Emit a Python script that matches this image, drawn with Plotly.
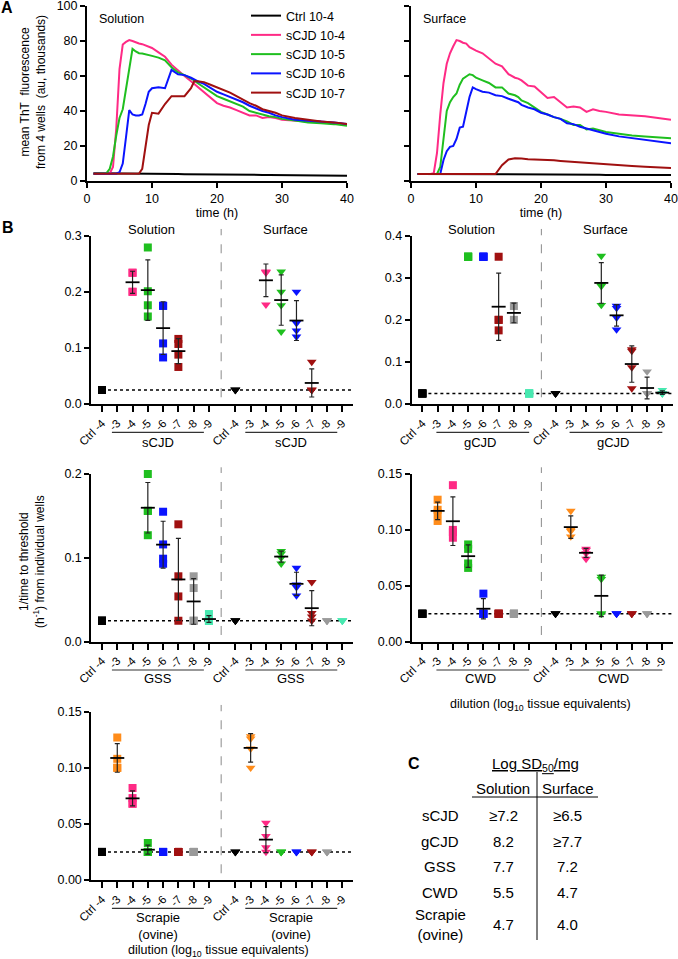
import numpy as np
import plotly.graph_objects as go

W, H = 678, 959
FONT = "Liberation Sans, Arial, Helvetica, sans-serif"


def fx(p):
    return p / W


def fy(p):
    return 1 - p / H


# ---------------- Panel A data (mean ThT fluorescence, thousands) ----------------
time_h = [1, 2, 3, 3.5, 4, 4.5, 5, 5.5, 6, 6.5, 7, 7.5, 8, 8.5, 9, 9.5, 10,
          11, 12, 13, 14, 15, 16, 16.5, 17, 18, 19, 20, 21, 22, 23, 24, 25,
          26, 27, 28, 29, 30, 32, 34, 36, 38, 40]

sol_ctrl = [4.4, 4.4, 4.4, 4.4, 4.4, 4.3, 4.3, 4.3, 4.3, 4.3, 4.3, 4.2, 4.2, 4.2, 4.2, 4.2, 4.1,
            4.1, 4.1, 4.0, 4.0, 3.9, 3.9, 3.9, 3.9, 3.8, 3.8, 3.7, 3.7, 3.7, 3.6, 3.6, 3.5,
            3.5, 3.5, 3.4, 3.4, 3.3, 3.3, 3.2, 3.1, 3.1, 3.0]
sol_m4 = [4.2, 4.2, 4.2, 4.3, 8, 30, 64, 78, 79.5, 80.5, 80, 79.2, 78.6, 78.2, 77.6, 77, 76,
          73.5, 71, 66.5, 63, 60, 57, 55.5, 54, 50.5, 47.5, 44.5, 43, 42, 40.5, 39, 37.5,
          37.5, 36, 36.5, 36, 35, 34.5, 34, 34, 33, 32.5]
sol_m5 = [4.2, 4.2, 4.5, 7, 14, 26, 36, 41, 52, 65, 75.5, 74, 73, 72.8, 72.5, 72, 71.5,
          70.5, 69, 65, 62, 60.5, 58.5, 57.5, 56, 53.5, 51, 48.5, 47, 45.5, 44, 42.5, 40,
          39, 38, 37, 36.5, 35.5, 34.5, 33.5, 33, 32.5, 31.5]
sol_m6 = [4.2, 4.2, 4.2, 4.2, 4.2, 4.2, 5, 10, 25, 40.5, 38, 37.5, 37.5, 38, 44, 51, 53,
          53.5, 53, 63.5, 61, 60.5, 59, 58, 57, 55.5, 53, 51, 49.5, 48, 46.5, 45, 43,
          41.5, 40, 39, 37.5, 36.5, 35, 34.5, 34, 33.5, 32.5]
sol_m7 = [4.2, 4.2, 4.2, 4.2, 4.2, 4.2, 4.2, 4.2, 4.2, 4.2, 4.2, 4.2, 4.3, 7, 20, 32, 39,
          38.5, 44, 48.5, 48.5, 48.5, 53, 57, 57, 56.5, 55, 53.5, 52, 50.5, 48.5, 46.5, 44.5,
          43, 41, 40, 39, 37.5, 36, 35, 34, 33.5, 32.5]

surf_ctrl = [4.0, 4.0, 4.0, 4.0, 4.0, 4.0, 4.0, 4.0, 4.0, 4.0, 3.9, 3.9, 3.9, 3.9, 3.9, 3.9, 3.9,
             3.9, 3.9, 3.8, 3.8, 3.8, 3.8, 3.8, 3.8, 3.8, 3.8, 3.7, 3.7, 3.7, 3.7, 3.7, 3.6,
             3.6, 3.6, 3.6, 3.6, 3.5, 3.5, 3.5, 3.4, 3.4, 3.4]
surf_m4 = [4, 4, 4, 4.5, 16, 38, 56, 67, 73, 77, 80.5, 80, 79, 78.5, 76.5, 75.5, 74.5,
           73, 70, 67, 65.5, 61, 59, 58.5, 57.5, 54.5, 54, 50.5, 47.5, 48, 45, 42, 42.5,
           42, 39.5, 41, 40, 39.5, 38, 37.5, 37, 36, 35]
surf_m5 = [4, 4, 4, 4, 4, 8, 25, 40, 45, 48, 50, 55, 58.5, 60, 61, 60.5, 59,
           57.5, 56, 53.5, 53.5, 50, 49, 48, 46, 44.5, 42, 39.5, 38, 36.5, 35.5, 34, 32,
           32, 29.5, 30, 29, 28, 27, 26, 25.5, 25, 24.5]
surf_m6 = [4, 4, 4, 4, 4, 4, 12, 17, 19.5, 20, 24, 30.5, 31, 39, 48, 53.5, 52.5,
           51, 50.5, 49, 48.5, 47, 45.5, 45, 43.5, 42, 41, 39, 38, 36.5, 35.5, 33, 32.5,
           31, 30, 29, 28, 27, 25.5, 24.5, 23.5, 22.5, 21.5]
surf_m7 = [4, 4, 4, 4, 4, 4, 4, 4, 4, 4, 4, 4, 4, 4, 4, 4, 4,
           4, 4, 4, 9, 12.3, 13, 13, 12.8, 12.5, 12.4, 12.2, 12, 11.8, 11.5, 11.2, 10.9,
           10.7, 10.4, 10.1, 9.9, 9.6, 9.1, 8.6, 8.2, 7.8, 7.4]

series_names = ["Ctrl 10-4", "sCJD 10-4", "sCJD 10-5", "sCJD 10-6", "sCJD 10-7"]
series_colors = ["#000000", "#FF2A85", "#1FBF1F", "#0A14FF", "#A01010"]

# ---------------- Panel B data (1/time to threshold, h^-1) ----------------
dil_labels = ["Ctrl -4", "-3", "-4", "-5", "-6", "-7", "-8", "-9"]
dil_colors = ["#000000", "#FF8C1A", "#FF2A85", "#1FBF1F", "#0A14FF", "#A01010", "#9A9A9A", "#48E8B0"]
THRESHOLD = 0.025

sCJD_solution = [[0.025, 0.025, 0.025, 0.025], [], [0.234, 0.234, 0.2, 0.2],
                 [0.279, 0.201, 0.176, 0.156], [0.175, 0.175, 0.108, 0.083],
                 [0.116, 0.107, 0.088, 0.066], [], []]
sCJD_surface = [[0.025, 0.025, 0.025, 0.025], [], [0.236, 0.235, 0.234, 0.177],
                [0.236, 0.2, 0.176, 0.129], [0.2, 0.144, 0.131, 0.12],
                [0.075, 0.025, 0.025, 0.025], [], []]
gCJD_solution = [[0.025, 0.025, 0.025, 0.025], [], [], [0.35, 0.35, 0.35, 0.35],
                 [0.35, 0.35, 0.35, 0.35], [0.35, 0.2, 0.2, 0.175], [0.233, 0.2],
                 [0.025, 0.025, 0.025, 0.025]]
gCJD_surface = [[0.025, 0.025, 0.025, 0.025], [], [], [0.352, 0.284, 0.28, 0.235],
                [0.233, 0.228, 0.205, 0.177], [0.13, 0.126, 0.087, 0.037],
                [0.077, 0.025, 0.025, 0.025], [0.033, 0.025, 0.025, 0.025]]
GSS_solution = [[0.025, 0.025, 0.025, 0.025], [], [], [0.2, 0.156, 0.156, 0.127],
                [0.155, 0.116, 0.099, 0.093], [0.14, 0.078, 0.054, 0.025],
                [0.078, 0.064, 0.025, 0.025], [0.033, 0.025, 0.025, 0.025]]
GSS_surface = [[0.025, 0.025, 0.025, 0.025], [], [], [0.108, 0.105, 0.1, 0.093],
               [0.088, 0.068, 0.065, 0.055], [0.071, 0.034, 0.03, 0.025],
               [0.025, 0.025, 0.025, 0.025], [0.025, 0.025, 0.025, 0.025]]
CWD_solution = [[0.025, 0.025, 0.025, 0.025], [0.127, 0.118, 0.115, 0.108],
                [0.14, 0.1, 0.098, 0.093], [0.087, 0.083, 0.07, 0.066],
                [0.043, 0.025, 0.025, 0.025], [0.025, 0.025, 0.025, 0.025],
                [0.025, 0.025, 0.025, 0.025], []]
CWD_surface = [[0.025, 0.025, 0.025, 0.025], [0.117, 0.1, 0.099, 0.094],
               [0.083, 0.082, 0.079, 0.074], [0.058, 0.056, 0.025, 0.025],
               [0.025, 0.025, 0.025, 0.025], [0.025, 0.025, 0.025, 0.025],
               [0.025, 0.025, 0.025, 0.025], []]
scrapie_solution = [[0.025, 0.025, 0.025, 0.025], [0.127, 0.108, 0.1, 0.1],
                    [0.082, 0.073, 0.068, 0.068], [0.033, 0.025, 0.025, 0.025],
                    [0.025, 0.025, 0.025, 0.025], [0.025, 0.025, 0.025, 0.025],
                    [0.025, 0.025, 0.025, 0.025], []]
scrapie_surface = [[0.025, 0.025, 0.025, 0.025], [0.128, 0.126, 0.117, 0.1],
                   [0.051, 0.039, 0.029, 0.025], [0.025, 0.025, 0.025, 0.025],
                   [0.025, 0.025, 0.025, 0.025], [0.025, 0.025, 0.025, 0.025],
                   [0.025, 0.025, 0.025, 0.025], []]

# ---------------- Panel C table ----------------
table_agents = ["sCJD", "gCJD", "GSS", "CWD", "Scrapie<br>(ovine)"]
table_solution = ["≥7.2", "8.2", "7.7", "5.5", "4.7"]
table_surface = ["≥6.5", "≥7.7", "7.2", "4.7", "4.0"]

# ---------------- Figure ----------------
fig = go.Figure()
axis_style = dict(showline=True, linecolor="black", linewidth=2, ticks="outside",
                  ticklen=5, tickwidth=1.5, tickcolor="black", showgrid=False,
                  zeroline=False, tickfont=dict(size=12, color="black"), fixedrange=True,
                  automargin=False, ticklabeloverflow="allow")
layout = {}
annotations = []
shapes = []


def note(text, x, y, xref="paper", size=12.5, xanchor="center", yanchor="middle", **kw):
    d = dict(text=text, x=x, y=y, xref=xref, yref="paper", showarrow=False,
             xanchor=xanchor, yanchor=yanchor, font=dict(size=size))
    d.update(kw)
    annotations.append(d)


# ---- Panel A ----
solution_series = [sol_ctrl, sol_m4, sol_m5, sol_m6, sol_m7]
surface_series = [surf_ctrl, surf_m4, surf_m5, surf_m6, surf_m7]
for k, (xa, ya, data) in enumerate([("x", "y", solution_series), ("x2", "y2", surface_series)]):
    for name, col, vals in zip(series_names, series_colors, data):
        fig.add_trace(go.Scatter(x=time_h, y=vals, mode="lines", name=name,
                                 line=dict(color=col, width=2), xaxis=xa, yaxis=ya,
                                 showlegend=(k == 0), hoverinfo="skip"))

A_x_dom = [(87, 347), (411, 671)]
for k in range(2):
    sx = "" if k == 0 else "2"
    layout["xaxis" + sx] = dict(axis_style, domain=[fx(A_x_dom[k][0]), fx(A_x_dom[k][1])],
                                range=[0, 40], tickvals=[0, 10, 20, 30, 40], anchor="y" + sx,
                                tickfont=dict(size=12.5),
                                title=dict(text="time (h)", font=dict(size=12.5), standoff=3))
    layout["yaxis" + sx] = dict(axis_style, domain=[fy(181), fy(6)], range=[0, 100],
                                tickvals=[0, 20, 40, 60, 80, 100], anchor="x" + sx,
                                showticklabels=(k == 0), tickfont=dict(size=12.5))

note("Solution", fx(97), fy(19), xanchor="left")
note("Surface", fx(421), fy(19), xanchor="left")
note("mean ThT\u00a0\u00a0fluorescence<br>from 4 wells\u00a0\u00a0(au, thousands)", fx(33), fy(92),
     size=12, textangle=-90)

# ---- Panel B ----
GROUP2_OFFSET = 8.73
SEP_X = 7.8
XRANGE = [-0.7, 16.43]
rows_px = [(235.7, 404), (474, 641.7), (711.7, 880)]
cols_px = [(91.3, 353), (411.7, 673)]
underline_y = [432.3, 670, 908.3]
grp_text_y = [442, 678.5, 926]
col_underline = [(0.65, 6.67, 3.66), (0.92, 7.0, 3.8)]

panels_B = [
    (3, 0, 0, "sCJD", sCJD_solution, sCJD_surface, 0.3, 0.1, ".1f"),
    (4, 0, 1, "gCJD", gCJD_solution, gCJD_surface, 0.4, 0.1, ".1f"),
    (5, 1, 0, "GSS", GSS_solution, GSS_surface, 0.2, 0.1, ".1f"),
    (6, 1, 1, "CWD", CWD_solution, CWD_surface, 0.15, 0.05, ".2f"),
    (7, 2, 0, "Scrapie<br>(ovine)", scrapie_solution, scrapie_surface, 0.15, 0.05, ".2f"),
]

tickvals_B = [i for i in range(8)] + [i + GROUP2_OFFSET for i in range(8)]
ticktext_B = dil_labels + dil_labels

for (n, r, c, agent, sol, surf, ymax, dtick, fmt) in panels_B:
    xa, ya = "x%d" % n, "y%d" % n
    mean_traces = []
    for g, (data, sym, msize) in enumerate([(sol, "square", 8), (surf, "triangle-down", 8.5)]):
        off = g * GROUP2_OFFSET
        for i, vals in enumerate(data):
            if not vals:
                continue
            fig.add_trace(go.Scatter(x=[i + off] * len(vals), y=vals, mode="markers",
                                     marker=dict(symbol=sym, size=msize, color=dil_colors[i],
                                                 line=dict(width=0)),
                                     xaxis=xa, yaxis=ya, showlegend=False, cliponaxis=False,
                                     hoverinfo="skip"))
            arr = np.array(vals, dtype=float)
            if len(arr) > 1 and arr.std() > 0:
                mean_traces.append(go.Scatter(
                    x=[i + off], y=[arr.mean()], mode="markers",
                    marker=dict(symbol="line-ew", size=10, color="black",
                                line=dict(width=1.8, color="black")),
                    error_y=dict(type="data", array=[arr.std(ddof=1)], color="#222222",
                                 thickness=1.2, width=2.5),
                    xaxis=xa, yaxis=ya, showlegend=False, cliponaxis=False, hoverinfo="skip"))
    for t in mean_traces:
        fig.add_trace(t)

    y0p, y1p = rows_px[r]
    x0p, x1p = cols_px[c]
    layout["xaxis%d" % n] = dict(axis_style, domain=[fx(x0p), fx(x1p)], range=XRANGE,
                                 tickvals=tickvals_B, ticktext=ticktext_B, tickangle=-45,
                                 ticklen=6, tickfont=dict(size=11.5), anchor=ya)
    layout["yaxis%d" % n] = dict(axis_style, domain=[fy(y1p), fy(y0p)], range=[0, ymax],
                                 tick0=0, dtick=dtick, tickformat=fmt, anchor=xa,
                                 tickfont=dict(size=12.5))

    # threshold dotted line
    shapes.append(dict(type="line", xref=xa, yref=ya, x0=0, x1=XRANGE[1], y0=THRESHOLD,
                       y1=THRESHOLD, line=dict(color="black", width=1.5, dash="dot"), layer="below"))
    # separator between Solution and Surface
    shapes.append(dict(type="line", xref=xa, yref=ya + " domain", x0=SEP_X, x1=SEP_X,
                       y0=0.04, y1=1.04, line=dict(color="#8a8a8a", width=1, dash="dash")))
    # group underlines and labels
    u0, u1, ut = col_underline[c]
    for g in range(2):
        off = g * GROUP2_OFFSET
        shapes.append(dict(type="line", xref=xa, yref="paper", x0=u0 + off, x1=u1 + off,
                           y0=fy(underline_y[r]), y1=fy(underline_y[r]),
                           line=dict(color="#333333", width=1.2)))
        note(agent, ut + off, fy(grp_text_y[r]), xref=xa, size=13)
    if r == 0:
        note("Solution", 3.25, fy(229), xref=xa, size=13)
        note("Surface", 12.0, fy(229), xref=xa, size=13)

note("1/time to threshold<br>(h<sup>-1</sup>) from individual wells", fx(32), fy(562),
     size=12, textangle=-90)
note("dilution (log<sub>10</sub> tissue equivalents)", fx(540), fy(705))
note("dilution (log<sub>10</sub> tissue equivalents)", fx(218), fy(951))

# ---- Panel labels ----
for lab, px_, py_ in [("A", 7, 8), ("B", 8, 227), ("C", 414, 763)]:
    note("<b>%s</b>" % lab, fx(px_), fy(py_), size=16)

# ---- Panel C table ----
note("<u>Log SD<sub>50</sub>/mg</u>", fx(535), fy(764), size=15)
note("Solution", fx(503), fy(788), size=15)
note("Surface", fx(568), fy(788), size=15)
row_y = [815, 841, 866, 892, 924]
for lab, vs, vf, yy in zip(table_agents, table_solution, table_surface, row_y):
    note(lab, fx(440), fy(yy), size=15)
    note(vs, fx(503), fy(yy), size=15)
    note(vf, fx(567), fy(yy), size=15)
shapes.append(dict(type="line", xref="paper", yref="paper", x0=fx(472), x1=fx(598),
                   y0=fy(797), y1=fy(797), line=dict(color="black", width=1)))
shapes.append(dict(type="line", xref="paper", yref="paper", x0=fx(537), x1=fx(537),
                   y0=fy(772), y1=fy(940), line=dict(color="black", width=1)))

fig.update_layout(
    width=W, height=H, margin=dict(l=0, r=0, t=0, b=0, autoexpand=False),
    paper_bgcolor="white", plot_bgcolor="white",
    font=dict(family=FONT, size=12, color="black"),
    showlegend=True,
    legend=dict(x=fx(246), y=fy(1), xanchor="left", yanchor="top", bgcolor="rgba(0,0,0,0)",
                font=dict(size=12.5), itemwidth=30, tracegroupgap=0),
    annotations=annotations, shapes=shapes,
    **layout,
)

fig.write_html("out.html", config={"displayModeBar": False},
               post_script="document.body.style.margin='0';document.body.style.padding='0';")
